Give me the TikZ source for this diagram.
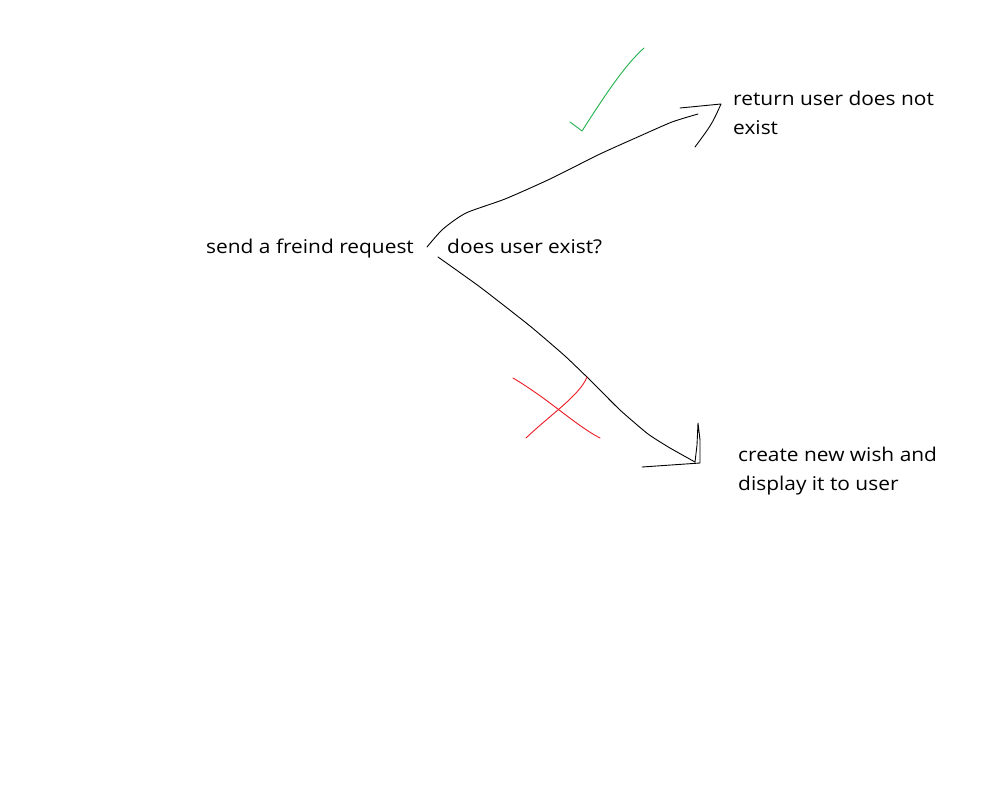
\documentclass[tikz,border=0pt]{standalone}
\usepackage{fontspec}
\setmainfont[FakeStretch=1.1]{Open Sans}
\definecolor{pgreen}{RGB}{34,177,76}
\definecolor{pred}{RGB}{237,28,36}
\begin{document}
\begin{tikzpicture}[x=1pt,y=-1pt,
  lbl/.style={anchor=base west,inner sep=0pt,font=\fontsize{19}{22}\selectfont},
  pen/.style={line width=0.9pt,line cap=round,line join=round},
  tickmark/.style={pen,draw=pgreen},
  crossmark/.style={pen,draw=pred}]
\useasboundingbox[fill=white] (0,0) rectangle (1008,808);
\node[lbl] (send) at (206,253) {send a freind request};
\node[lbl] (ask) at (447,253) {does user exist?};
\node[lbl] (ret1) at (733,105) {return user does not};
\node[lbl] (ret2) at (733,134) {exist};
\node[lbl] (new1) at (738,461) {create new wish and};
\node[lbl] (new2) at (738,490) {display it to user};
% upper branch
\coordinate (us) at (427,247);
\coordinate (ue) at (698,114);
\coordinate (ut) at (721,104);
\draw[pen] plot[smooth,tension=0.4] coordinates {(us) (443,229) (466,213) (505,199) (550,179) (600,154) (640,136) (672,122) (ue)};
\draw[pen] (680,108) -- (ut) .. controls (712,124) .. (695,147);
% lower branch
\coordinate (ls) at (438,257);
\coordinate (lt) at (695,462);
\draw[pen] plot[smooth,tension=0.3] coordinates {(ls) (480,287) (530,326) (565,356) (590,380) (620,410) (648,434) (670,448) (lt)};
\draw[pen] (642,467) -- (700,463) -- (700,440) -- (698,423) -- (697,445) -- (lt);
% marks
\draw[tickmark] (570,122) -- (582,131) .. controls (605,95) and (625,65) .. (644,48);
\draw[crossmark] (513,378) .. controls (550,400) and (575,425) .. (600,438);
\draw[crossmark] (526,438) .. controls (550,415) and (580,395) .. (587,377);
\end{tikzpicture}
\end{document}
